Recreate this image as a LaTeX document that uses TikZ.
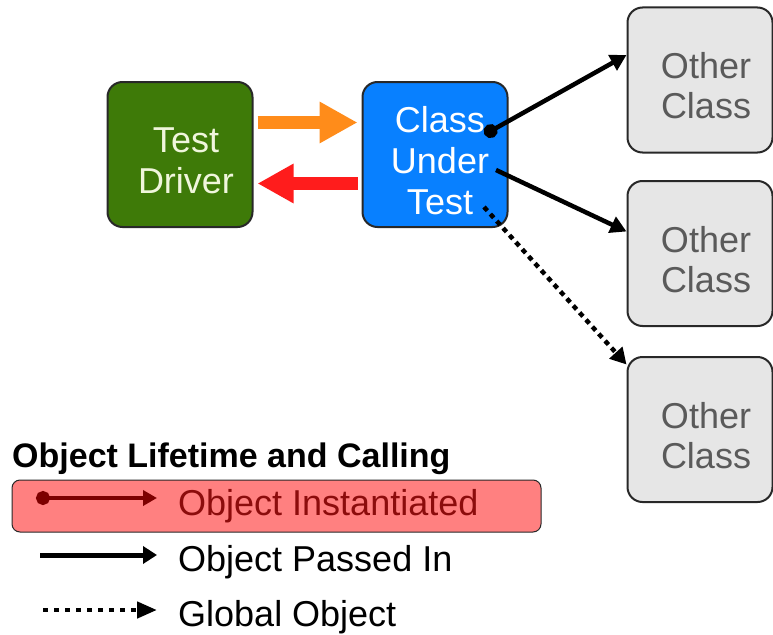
\documentclass[tikz,border=0pt]{standalone}
\usepackage{fontspec}
\setmainfont{Liberation Sans}
\usetikzlibrary{arrows.meta}

\definecolor{drivergreen}{RGB}{62,122,8}
\definecolor{drivertext}{RGB}{240,246,220}
\definecolor{cutblue}{RGB}{8,128,255}
\definecolor{othergray}{RGB}{230,230,230}
\definecolor{othertext}{RGB}{90,90,90}
\definecolor{edgegray}{RGB}{40,40,40}
\definecolor{callorange}{RGB}{255,140,26}
\definecolor{returnred}{RGB}{255,28,28}
\definecolor{legendfill}{RGB}{255,128,128}
\definecolor{instred}{RGB}{125,0,0}
\definecolor{insttext}{RGB}{140,12,12}

\begin{document}
\begin{tikzpicture}[x=1pt,y=-1pt,
  box/.style={draw=edgegray, line width=2pt, rounded corners=15pt,
    minimum width=145pt, minimum height=145pt, inner sep=0pt},
  boxlabel/.style={align=center, inner sep=0pt,
    font=\fontsize{36}{41}\selectfont},
  otherlabel/.style={boxlabel, text=othertext,
    font=\fontsize{36}{40}\selectfont},
  passline/.style={line width=4.5pt, -{Triangle[length=16pt,width=17pt]}},
  globline/.style={line width=4.5pt, dash pattern=on 5pt off 4.5pt,
    -{Triangle[length=16pt,width=17pt]}},
  legtext/.style={anchor=base west, inner sep=0pt,
    font=\fontsize{36}{40}\selectfont},
]
\useasboundingbox[fill=white] (0,0) rectangle (773,634);

% main boxes
\node[box, fill=drivergreen] (driver) at (180,154.5) {};
\node[boxlabel, text=drivertext, xshift=6pt, yshift=-6pt] (drivertxt) at (driver) {Test\\Driver};

\node[box, fill=cutblue] (cut) at (435,154.5) {};
\node[boxlabel, text=white, xshift=5pt, yshift=-6pt] (cuttxt) at (cut) {Class\\Under\\Test};

\node[box, fill=othergray] (oc1) at (700,80) {};
\node[otherlabel, xshift=6pt, yshift=-6pt] (oc1txt) at (oc1) {Other\\Class};
\node[box, fill=othergray] (oc2) at (700,253.5) {};
\node[otherlabel, xshift=6pt, yshift=-6pt] (oc2txt) at (oc2) {Other\\Class};
\node[box, fill=othergray] (oc3) at (700,429.5) {};
\node[otherlabel, xshift=6pt, yshift=-6pt] (oc3txt) at (oc3) {Other\\Class};

% call and return between driver and class under test
\draw[callorange, line width=13pt, -{Triangle[length=38pt,width=39pt]}]
  ([xshift=4pt,yshift=32pt]driver.east) -- ([xshift=-4pt,yshift=32pt]cut.west);
\draw[returnred, line width=13pt, -{Triangle[length=36pt,width=37pt]}]
  ([xshift=-4pt,yshift=-29pt]cut.west) -- ([xshift=4pt,yshift=-29pt]driver.east);

% collaborators of the class under test
\coordinate (s1) at (484.5,134.5);
\coordinate (s2) at (496,170);
\coordinate (s3) at (484,207);
\draw[passline, {Circle[length=14pt]}-{Triangle[length=16pt,width=17pt]}]
  (s1) -- ([yshift=25pt]oc1.west);
\draw[passline] (s2) -- ([yshift=22pt]oc2.west);
\draw[globline] (s3) -- ([yshift=65pt]oc3.west);

% legend
\node[anchor=base west, inner sep=0pt, font=\bfseries\fontsize{34}{40}\selectfont]
  (legtitle) at (12,467) {Object Lifetime and Calling};
\node[draw=edgegray, line width=1pt, fill=legendfill, rounded corners=8pt,
  minimum width=529pt, minimum height=52pt, inner sep=0pt] (legbox) at (276.5,506) {};

\coordinate (l1a) at (36,498);
\coordinate (l1b) at (157,498);
\draw[instred, line width=4pt, {Circle[length=14pt]}-{Triangle[length=14pt,width=15pt]}]
  (l1a) -- (l1b);
\node[legtext, text=insttext] (l1txt) at (178,515) {Object Instantiated};

\coordinate (l2a) at (40,555);
\coordinate (l2b) at (157,555);
\draw[line width=5pt, -{Triangle[length=14pt,width=17pt]}] (l2a) -- (l2b);
\node[legtext] (l2txt) at (178,571) {Object Passed In};

\coordinate (l3a) at (43,610);
\coordinate (l3b) at (157,610);
\draw[line width=4.5pt, dash pattern=on 5pt off 6pt,
  -{Triangle[length=20pt,width=16pt]}] (l3a) -- (l3b);
\node[legtext] (l3txt) at (178,626) {Global Object};
\end{tikzpicture}
\end{document}
